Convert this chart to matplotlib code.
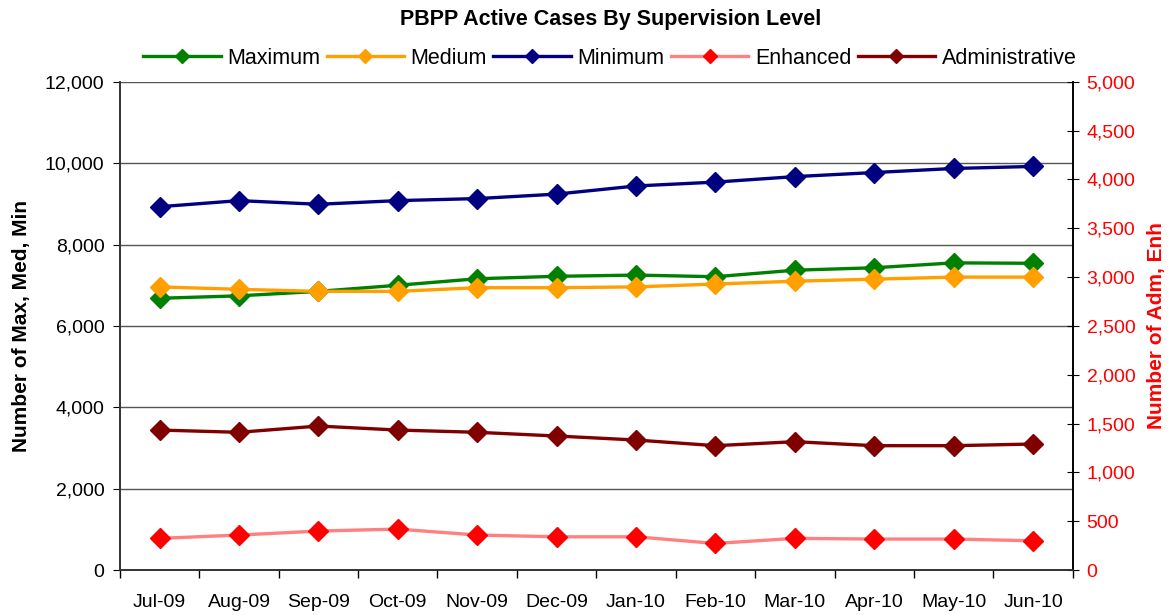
import numpy as np
import matplotlib.pyplot as plt
from matplotlib.ticker import FuncFormatter, FixedLocator

plt.rcParams['font.family'] = ['Liberation Sans', 'DejaVu Sans']

months = ['Jul-09', 'Aug-09', 'Sep-09', 'Oct-09', 'Nov-09', 'Dec-09',
          'Jan-10', 'Feb-10', 'Mar-10', 'Apr-10', 'May-10', 'Jun-10']

# left axis
maximum = [6680, 6740, 6850, 7000, 7160, 7220, 7250, 7210, 7370, 7430, 7550, 7540]
medium = [6960, 6900, 6850, 6850, 6940, 6940, 6960, 7030, 7100, 7150, 7200, 7200]
minimum = [8930, 9080, 8990, 9080, 9130, 9240, 9440, 9535, 9670, 9770, 9870, 9920]
# right axis
enhanced = [325, 359, 400, 420, 359, 341, 341, 273, 325, 318, 318, 300]
administrative = [1434, 1411, 1475, 1434, 1411, 1373, 1332, 1274, 1315, 1274, 1274, 1291]

x = np.arange(len(months))

fig = plt.figure(figsize=(11.75, 6.15), dpi=100)
ax = fig.add_axes([0.102, 0.073, 0.811, 0.794])
ax2 = ax.twinx()

lw = 2.4
ms = 10
h1, = ax.plot(x, maximum, color='#008000', lw=lw, marker='D', ms=ms, label='Maximum')
h2, = ax.plot(x, medium, color='#FFA000', lw=lw, marker='D', ms=ms, label='Medium')
h3, = ax.plot(x, minimum, color='#000080', lw=lw, marker='D', ms=ms, label='Minimum')
h4, = ax2.plot(x, enhanced, color='#FF8080', lw=lw, marker='D', ms=ms,
               mfc='#FF0000', mec='#FF0000', label='Enhanced')
h5, = ax2.plot(x, administrative, color='#800000', lw=lw, marker='D', ms=ms,
               label='Administrative')

ax.set_xlim(-0.5, len(months) - 0.5)
ax.set_ylim(0, 12000)
ax2.set_ylim(0, 5000)

ax.set_yticks(np.arange(0, 12001, 2000))
ax2.set_yticks(np.arange(0, 5001, 500))
fmt = FuncFormatter(lambda v, p: f'{int(v):,}')
ax.yaxis.set_major_formatter(fmt)
ax2.yaxis.set_major_formatter(fmt)

ax.set_xticks(x)
ax.set_xticklabels(months)
ax.xaxis.set_minor_locator(FixedLocator(np.arange(-0.5, len(months), 1)))
ax.tick_params(axis='x', which='major', length=0, labelsize=14, pad=17)
ax.tick_params(axis='x', which='minor', length=6, width=1, direction='out')
ax.tick_params(axis='y', labelsize=14, length=5, direction='out', pad=6)
ax2.tick_params(axis='y', labelsize=14, length=8, direction='inout', colors='black',
                labelcolor='#FF0000', pad=6)

ax.yaxis.grid(True, color='#555555', lw=1)
ax.set_axisbelow(True)

for a in (ax, ax2):
    a.spines['top'].set_visible(False)
    a.spines['left'].set_color('#333333')
    a.spines['bottom'].set_color('#333333')
    a.spines['right'].set_color('black')
    for s in a.spines.values():
        s.set_linewidth(1.2)

ax.set_ylabel('Number of Max, Med, Min', fontsize=15, fontweight='bold', labelpad=10)
ax2.set_ylabel('Number of Adm, Enh', fontsize=15, fontweight='bold', color='#FF0000',
               labelpad=8)

fig.suptitle('PBPP Active Cases By Supervision Level', fontsize=15.5, fontweight='bold',
             x=0.52, y=0.985)

fig.legend(handles=[h1, h2, h3, h4, h5], loc='upper center', bbox_to_anchor=(0.519, 0.94),
           ncol=5, frameon=False, fontsize=15.5, handlelength=3.6, handletextpad=0.3,
           columnspacing=0.3, markerscale=0.7, borderpad=0)

fig.savefig('out.png', dpi=100)
